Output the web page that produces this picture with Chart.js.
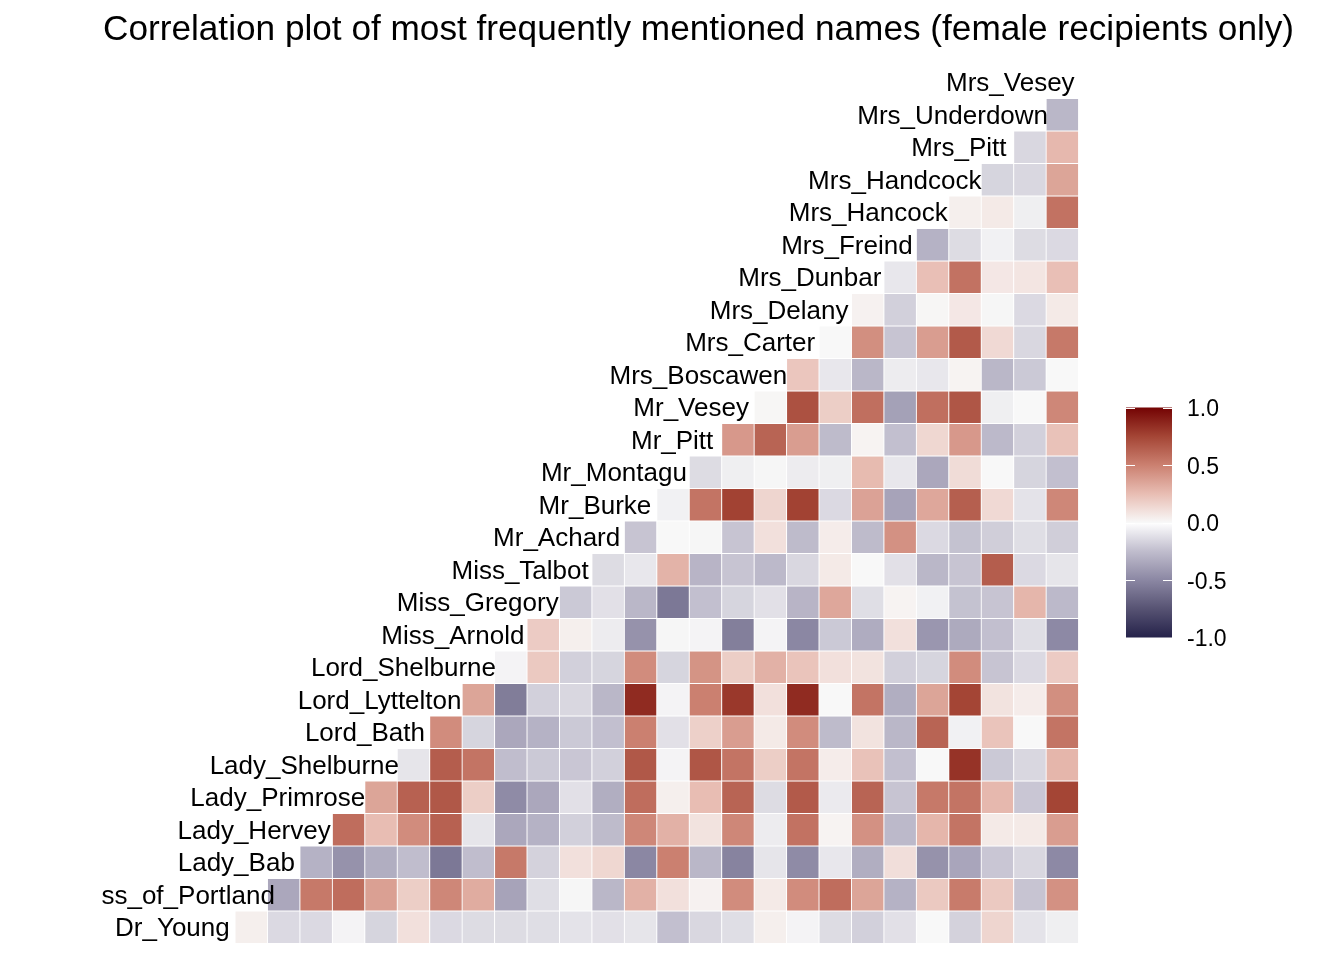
<!DOCTYPE html>
<html>
<head>
<meta charset="utf-8">
<title>Correlation plot</title>
<script src="https://cdn.jsdelivr.net/npm/chart.js@4.4.1/dist/chart.umd.min.js"></script>
<style>
  html, body { margin: 0; padding: 0; background: #ffffff; }
  #wrap { width: 1344px; height: 960px; }
</style>
</head>
<body>
<div id="wrap"><canvas id="chart" width="1344" height="960"></canvas></div>
<script>
const TITLE = "Correlation plot of most frequently mentioned names (female recipients only)";

const names = [
  "Dr_Young", "Duchess_of_Portland", "Lady_Bab", "Lady_Hervey", "Lady_Primrose",
  "Lady_Shelburne", "Lord_Bath", "Lord_Lyttelton", "Lord_Shelburne", "Miss_Arnold",
  "Miss_Gregory", "Miss_Talbot", "Mr_Achard", "Mr_Burke", "Mr_Montagu", "Mr_Pitt",
  "Mr_Vesey", "Mrs_Boscawen", "Mrs_Carter", "Mrs_Delany", "Mrs_Dunbar", "Mrs_Freind",
  "Mrs_Hancock", "Mrs_Handcock", "Mrs_Pitt", "Mrs_Underdown", "Mrs_Vesey"
];

// row i holds the correlations of names[i] with names[i+1] ... names[26]
const corrRows = [
  [0.04, -0.13, -0.13, -0.02, -0.15, 0.10, -0.13, -0.12, -0.12, -0.11, -0.09, -0.10, -0.08, -0.24, -0.14, -0.11, 0.04, -0.02, -0.12, -0.17, -0.10, 0.00, -0.16, 0.15, -0.09, -0.04],
  [-0.35, 0.53, 0.58, 0.37, 0.18, 0.47, 0.32, -0.37, -0.11, -0.01, -0.28, 0.30, 0.10, 0.03, 0.45, 0.06, 0.45, 0.58, 0.35, -0.30, 0.20, 0.52, 0.20, -0.22, 0.43],
  [-0.30, -0.45, -0.32, -0.25, -0.57, -0.25, 0.53, -0.16, 0.10, 0.14, -0.50, 0.50, -0.28, -0.52, -0.08, -0.48, -0.07, -0.32, 0.11, -0.45, -0.36, -0.21, -0.14, -0.49],
  [0.58, 0.25, 0.45, 0.63, -0.08, -0.35, -0.30, -0.17, -0.26, 0.47, 0.30, 0.09, 0.47, -0.05, 0.56, 0.02, 0.43, -0.27, 0.28, 0.55, 0.06, 0.06, 0.38],
  [0.35, 0.63, 0.67, 0.18, -0.48, -0.35, -0.10, -0.32, 0.58, 0.04, 0.25, 0.62, -0.12, 0.66, -0.06, 0.62, -0.22, 0.53, 0.55, 0.27, -0.21, 0.75],
  [-0.08, 0.65, 0.55, -0.25, -0.20, -0.21, -0.17, 0.67, -0.02, 0.68, 0.55, 0.18, 0.55, 0.05, 0.23, -0.24, 0.00, 0.82, -0.20, -0.14, 0.28],
  [0.45, -0.15, -0.35, -0.30, -0.20, -0.24, 0.50, -0.10, 0.17, 0.38, 0.06, 0.45, -0.26, 0.09, -0.28, 0.62, -0.03, 0.22, 0.00, 0.55],
  [0.35, -0.55, -0.17, -0.14, -0.28, 0.85, -0.02, 0.50, 0.80, 0.10, 0.85, 0.00, 0.55, -0.32, 0.35, 0.75, 0.09, 0.05, 0.44],
  [-0.02, 0.20, -0.17, -0.15, 0.45, -0.15, 0.42, 0.18, 0.30, 0.22, 0.10, 0.09, -0.17, -0.15, 0.45, -0.22, -0.13, 0.19],
  [0.19, 0.04, -0.05, -0.45, -0.01, -0.02, -0.54, -0.02, -0.50, -0.20, -0.33, 0.10, -0.43, -0.34, -0.24, -0.11, -0.49],
  [-0.20, -0.10, -0.28, -0.57, -0.24, -0.15, -0.10, -0.29, 0.34, -0.11, 0.02, -0.03, -0.23, -0.22, 0.28, -0.27],
  [-0.12, -0.07, 0.29, -0.29, -0.22, -0.27, -0.14, 0.06, 0.00, -0.10, -0.28, -0.22, 0.65, -0.13, -0.08],
  [-0.22, 0.00, -0.01, -0.22, 0.10, -0.26, 0.05, -0.26, 0.43, -0.13, -0.23, -0.18, -0.11, -0.18],
  [-0.03, 0.55, 0.76, 0.15, 0.76, -0.13, 0.36, -0.37, 0.34, 0.64, 0.13, -0.09, 0.47],
  [-0.12, -0.04, -0.01, -0.05, -0.04, 0.26, -0.07, -0.35, 0.12, 0.00, -0.15, -0.24],
  [0.40, 0.62, 0.38, -0.26, 0.02, -0.24, 0.14, 0.40, -0.27, -0.17, 0.23],
  [0.01, 0.70, 0.18, 0.57, -0.38, 0.57, 0.68, -0.04, 0.00, 0.47],
  [0.21, -0.07, -0.28, -0.05, -0.07, 0.02, -0.28, -0.20, 0.00],
  [0.00, 0.44, -0.22, 0.38, 0.66, 0.13, -0.14, 0.53],
  [0.03, -0.17, 0.01, 0.07, -0.01, -0.13, 0.06],
  [-0.07, 0.24, 0.56, 0.07, 0.08, 0.24],
  [-0.30, -0.12, -0.03, -0.12, -0.13],
  [0.04, 0.06, -0.04, 0.56],
  [-0.15, -0.14, 0.35],
  [-0.14, 0.27],
  [-0.28]
];

const legendTicks = [1.0, 0.5, 0.0, -0.5, -1.0];
const legendTickLabels = ["1.0", "0.5", "0.0", "-0.5", "-1.0"];

// diverging fill, low navy -> near white -> dark red
const colorStops = [
  [-1.0, "#25224a"], [-0.75, "#575373"], [-0.5, "#8b87a3"], [-0.25, "#c0bdcd"],
  [0.0, "#f8f8f8"], [0.25, "#e8bdb3"], [0.5, "#cb8070"], [0.75, "#a44535"], [1.0, "#730303"]
];

const FONT = '"Liberation Sans", Arial, Helvetica, sans-serif';

function hexToRgb(hex) {
  const n = parseInt(hex.slice(1), 16);
  return [(n >> 16) & 255, (n >> 8) & 255, n & 255];
}

function corrColor(v) {
  if (v <= colorStops[0][0]) return colorStops[0][1];
  for (let i = 1; i < colorStops.length; i++) {
    const [v1, c1] = colorStops[i];
    if (v <= v1) {
      const [v0, c0] = colorStops[i - 1];
      const t = (v - v0) / (v1 - v0);
      const a = hexToRgb(c0), b = hexToRgb(c1);
      const rgb = a.map((x, k) => Math.round(x + (b[k] - x) * t));
      return `rgb(${rgb[0]},${rgb[1]},${rgb[2]})`;
    }
  }
  return colorStops[colorStops.length - 1][1];
}

const cells = [];
corrRows.forEach((row, r) => {
  row.forEach((v, k) => {
    cells.push({ x: names[r + k + 1], y: [r - 0.5, r + 0.5], v: v });
  });
});

// title, diagonal labels and colour bar
const overlayPlugin = {
  id: "overlay",
  afterDraw(chart) {
    const ctx = chart.ctx;
    const xs = chart.scales.x;
    const ys = chart.scales.y;

    ctx.save();
    ctx.fillStyle = "#000000";
    ctx.font = `35.2px ${FONT}`;
    ctx.textAlign = "left";
    ctx.textBaseline = "alphabetic";
    ctx.fillText(TITLE, 103, 40);
    ctx.restore();

    ctx.save();
    ctx.beginPath();
    ctx.rect(101, 0, 1243, 960);
    ctx.clip();
    ctx.fillStyle = "#000000";
    ctx.font = `26px ${FONT}`;
    ctx.textAlign = "left";
    ctx.textBaseline = "alphabetic";
    names.forEach((name, i) => {
      const cx = xs.getPixelForValue(i);
      const cy = ys.getPixelForValue(i);
      const w = ctx.measureText(name).width;
      ctx.fillText(name, cx - 0.905 * w, cy + 9);
    });
    ctx.restore();

    const barLeft = 1126, barRight = 1172, barTop = 407.5, barBottom = 637.5;
    const toY = v => barTop + (1 - v) / 2 * (barBottom - barTop);
    ctx.save();
    const grad = ctx.createLinearGradient(0, barTop, 0, barBottom);
    colorStops.forEach(([v, c]) => grad.addColorStop((1 - v) / 2, c));
    grad.addColorStop(0.5, "#ffffff");
    ctx.fillStyle = grad;
    ctx.fillRect(barLeft, barTop, barRight - barLeft, barBottom - barTop);

    ctx.strokeStyle = "#ffffff";
    ctx.lineWidth = 1;
    legendTicks.forEach(v => {
      const y = Math.round(toY(v)) + 0.5;
      ctx.beginPath();
      ctx.moveTo(barLeft, y); ctx.lineTo(barLeft + 9, y);
      ctx.moveTo(barRight - 9, y); ctx.lineTo(barRight, y);
      ctx.stroke();
    });

    ctx.fillStyle = "#000000";
    ctx.font = `23px ${FONT}`;
    ctx.textAlign = "left";
    ctx.textBaseline = "alphabetic";
    legendTicks.forEach((v, i) => {
      ctx.fillText(legendTickLabels[i], 1187, toY(v) + 8.5);
    });
    ctx.restore();
  }
};

new Chart(document.getElementById("chart"), {
  type: "bar",
  data: {
    labels: names,
    datasets: [{
      data: cells,
      backgroundColor: c => corrColor(c.raw ? c.raw.v : 0),
      borderColor: "#ffffff",
      borderWidth: 0.8,
      borderSkipped: false,
      barPercentage: 1,
      categoryPercentage: 1
    }]
  },
  options: {
    responsive: false,
    animation: false,
    layout: { padding: { left: 202.6, right: 265.4, top: 66, bottom: 16.5 } },
    scales: {
      x: { type: "category", display: false },
      y: { type: "linear", min: -0.5, max: 26.5, display: false }
    },
    plugins: {
      legend: { display: false },
      tooltip: { enabled: false }
    }
  },
  plugins: [overlayPlugin]
});
</script>
</body>
</html>
